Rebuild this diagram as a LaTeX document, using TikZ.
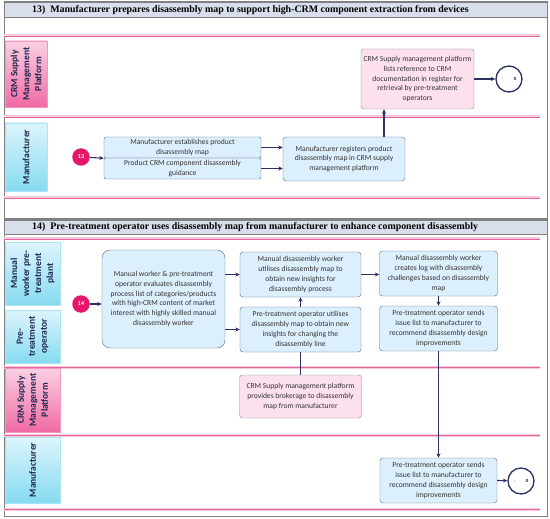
\documentclass[tikz,border=0pt]{standalone}
\usepackage{fontspec}
\setmainfont{Carlito}
\newfontfamily\headfont{Liberation Serif}
\usetikzlibrary{arrows.meta}

\definecolor{flowcol}{HTML}{2B3263}
\definecolor{boxfill}{HTML}{DCEFFC}
\definecolor{boxline}{HTML}{5D6680}
\definecolor{pinkfill}{HTML}{FCE0EE}
\definecolor{laneline}{HTML}{E9649C}
\definecolor{headfill}{HTML}{D8DEEB}
\definecolor{framecol}{HTML}{808080}
\definecolor{startcol}{HTML}{E6176A}
\definecolor{lanetext}{HTML}{1E2650}
\definecolor{cyanlo}{HTML}{86DAF0}
\definecolor{cyanhi}{HTML}{DDF5FC}
\definecolor{pinklo}{HTML}{F06AA3}
\definecolor{pinkhi}{HTML}{FAD0E3}

\begin{document}
\begin{tikzpicture}[x=1pt,y=-1pt,>={Stealth[length=4.5pt,width=4pt]},
	task/.style={draw=boxline,fill=boxfill,rounded corners=3pt,align=center,inner sep=1pt,
		text=black!80,font=\fontsize{7.6}{9.8}\selectfont},
	crmtask/.style={task,fill=pinkfill,draw=boxline!80},
	lanebg/.style={draw=cyanlo!70,top color=cyanhi,bottom color=cyanlo},
	crmlanebg/.style={draw=pinklo!70,top color=pinkhi,bottom color=pinklo},
	lane/.style={rotate=90,align=center,inner sep=0pt,text=lanetext,
		font=\bfseries\fontsize{9.5}{12}\selectfont},
	startev/.style={circle,fill=startcol,text=white,inner sep=0pt,minimum size=17.5pt,
		font=\bfseries\fontsize{6}{7}\selectfont},
	endev/.style={circle,draw=flowcol,line width=1.3pt,fill=white,inner sep=0pt,minimum size=26pt,
		font=\fontsize{6.5}{7}\selectfont},
	headtext/.style={anchor=west,inner sep=0pt,font=\headfont\bfseries\fontsize{9.9}{11}\selectfont}]
	\useasboundingbox (0,0) rectangle (550,519);
	
	% frames and headers
	\draw[framecol,line width=1pt] (4,2) rectangle (547,219);
	\draw[framecol,line width=1pt] (4,220) rectangle (547,516);
	\draw[framecol,fill=headfill] (4,2) rectangle (547,17);
	\draw[framecol,fill=headfill] (4,220) rectangle (547,234);
	\node[headtext] (head13) at (32,10) {13)\enspace Manufacturer prepares disassembly map to support high-CRM component extraction from devices};
	\node[headtext] (head14) at (32,227.5) {14)\enspace Pre-treatment operator uses disassembly map from manufacturer to enhance component disassembly};
	
	% lane separators
	\foreach \y in {36,117,198,239,367,435,509} {
		\draw[laneline!35,line width=3pt] (4,\y) -- (540,\y);
		\draw[laneline,line width=0.9pt] (4,\y) -- (540,\y);
	}
	
	% lanes
	\shade[crmlanebg] (5,41) rectangle (47,107);
	\shade[lanebg] (5,123) rectangle (47,191);
	\shade[lanebg] (5,242) rectangle (60,305);
	\shade[lanebg] (5,310) rectangle (60,363);
	\shade[crmlanebg] (5,368) rectangle (60,432);
	\shade[lanebg] (5,437) rectangle (60,503);
	\node[lane] (crmlaneA) at (26,74) {CRM Supply\\Management\\Platform};
	\node[lane] (manlaneA) at (26,157) {Manufacturer};
	\node[lane] (mwlane) at (32.5,273.5) {Manual\\worker pre-\\treatment\\plant};
	\node[lane] (ptlane) at (32.5,336.5) {Pre-\\treatment\\operator};
	\node[lane] (crmlaneB) at (32.5,400) {CRM Supply\\Management\\Platform};
	\node[lane] (manlaneB) at (32.5,470) {Manufacturer};
	
	% 13) tasks
	\node[startev] (start13) at (81,157) {13};
	\node[task,rounded corners=2pt,minimum width=157pt,minimum height=21pt] (establish) at (182.5,147.5) {Manufacturer establishes product\\disassembly map};
	\node[task,rounded corners=2pt,minimum width=157pt,minimum height=21pt] (guidance) at (182.5,168.5) {Product CRM component disassembly\\guidance};
	\node[task,minimum width=122pt,minimum height=44pt] (register) at (344,159) {Manufacturer registers product\\disassembly map in CRM supply\\management platform};
	\node[crmtask,minimum width=113pt,minimum height=60pt] (listref) at (417.5,79) {CRM Supply management platform\\lists reference to CRM\\documentation in register for\\retrieval by pre-treatment\\operators};
	\node[endev] (end13) at (509,79) {$\cdot$\hspace{10pt}x};
	
	% 14) tasks
	\node[startev] (start14) at (81,304) {14};
	\node[task,rounded corners=8pt,minimum width=123pt,minimum height=98pt] (evaluate) at (163.5,299) {Manual worker \& pre-treatment\\operator evaluates disassembly\\process list of categories/products\\with high-CRM content of market\\interest with highly skilled manual\\disassembly worker};
	\node[task,minimum width=121pt,minimum height=45pt] (mwuse) at (300.5,274.5) {Manual disassembly worker\\utilises disassembly map to\\obtain new insights for\\disassembly process};
	\node[task,minimum width=118pt,minimum height=45pt] (mwlog) at (438.5,273.5) {Manual disassembly worker\\creates log with disassembly\\challenges based on disassembly\\map};
	\node[task,minimum width=121pt,minimum height=45pt] (ptuse) at (300.5,329.5) {Pre-treatment operator utilises\\disassembly map to obtain new\\insights for changing the\\disassembly line};
	\node[task,minimum width=118pt,minimum height=45pt] (ptsend) at (438.5,328.5) {Pre-treatment operator sends\\issue list to manufacturer to\\recommend disassembly design\\improvements};
	\node[crmtask,minimum width=122pt,minimum height=43pt] (brokerage) at (300.5,396.5) {CRM Supply management platform\\provides brokerage to disassembly\\map from manufacturer};
	\node[task,minimum width=117pt,minimum height=45pt] (mansend) at (438.5,480.5) {Pre-treatment operator sends\\issue list to manufacturer to\\recommend disassembly design\\improvements};
	\node[endev] (end14) at (521,481) {$\cdot$\hspace{10pt}x};
	
	\begin{scope}[every edge/.style={draw=flowcol,line width=1.1pt}]
		\path [->] (start13) edge (establish.south west);
		\path [->] (establish.east) edge (establish.east -| register.west);
		\path [->] (guidance.east) edge (guidance.east -| register.west);
		\path [->] ([xshift=40pt]register.north) edge ([xshift=40pt]register.north |- listref.south);
		\path [->] (listref.east) edge (end13);
		
		\path [->] (start14) edge (start14 -| evaluate.west);
		\path [->] (evaluate.east |- mwuse.west) edge (mwuse.west);
		\path [->] (evaluate.east |- ptuse.west) edge (ptuse.west);
		\path [->] (mwuse.east) edge (mwuse.east -| mwlog.west);
		\path [->] (ptuse.north) edge (mwuse.south);
		\path (brokerage.north) edge (ptuse.south);
		\path [->] (mwlog.south) edge (ptsend.north);
		\path [->] (ptsend.south) edge (mansend.north);
		\path [->] (mansend.east) edge (end14);
	\end{scope}
\end{tikzpicture}
\end{document}
